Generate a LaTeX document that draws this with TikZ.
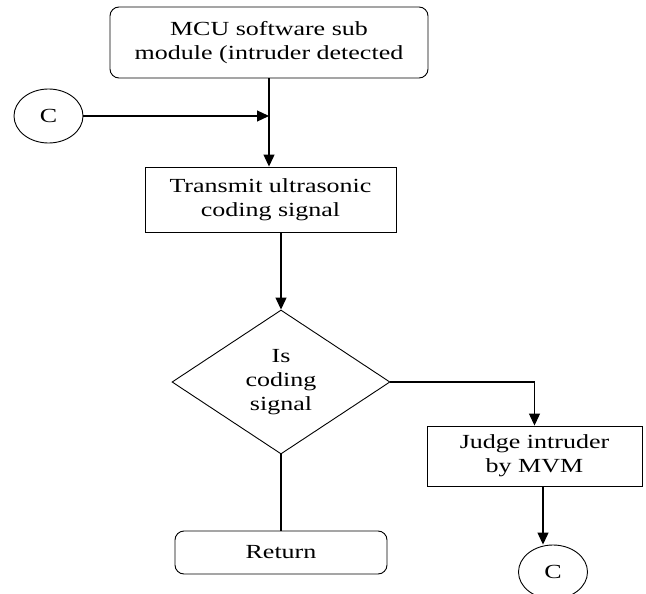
\documentclass[tikz,border=0pt]{standalone}
\usepackage{fontspec}
\setmainfont[FakeStretch=1.3]{Liberation Serif}
\usetikzlibrary{shapes.geometric,arrows.meta,positioning}

\begin{document}
\begin{tikzpicture}[x=1pt, y=-1pt, font=\fontsize{20}{24}\selectfont,
     block/.style={draw, line width=0.9pt, align=center, inner sep=2pt},
     rblock/.style={block, rounded corners=9pt},
     decision/.style={draw, diamond, line width=0.9pt, align=center, aspect=1.5, inner sep=1pt, minimum width=218pt, minimum height=144pt},
     conn/.style={draw, ellipse, line width=0.9pt, minimum width=69pt, minimum height=54pt, inner sep=0pt},
     flow/.style={line width=1.2pt, -{Triangle[length=12pt, width=11pt]}},]
     \clip (0,0) rectangle (646,594);
     \node[rblock, minimum width=318pt, minimum height=71pt] (start) at (269,42.5) {MCU software sub\\module (intruder detected};
     \node[conn] (conA) at (48.5,116) {C};
     \node[block, minimum width=251pt, minimum height=65pt] (xmit) at (270.5,199.5) {Transmit ultrasonic\\coding signal};
     \node[decision] (test) at (281,382) {Is\\coding\\signal};
     \node[block, minimum width=215pt, minimum height=60pt] (judge) at (534.5,456) {Judge intruder\\by MVM};
     \node[rblock, minimum width=212pt, minimum height=43pt] (ret) at (281,552.5) {Return};
     \node[conn] (conB) at (553,572) {C};
     \coordinate (join) at (start.south |- conA.east);
     \draw[flow] (start.south) -- (start.south |- xmit.north);
     \draw[flow] (conA) -- (join);
     \draw[flow] (xmit.south -| test.north) -- (test.north);
     \draw[flow] (test.east) -| (judge.north);
     \draw[line width=1.2pt] (test.south) -- (test.south |- ret.north);
     \draw[flow] ([xshift=8.5pt]judge.south) -- ([xshift=8.5pt]judge.south |- conB.north);
\end{tikzpicture}
\end{document}
